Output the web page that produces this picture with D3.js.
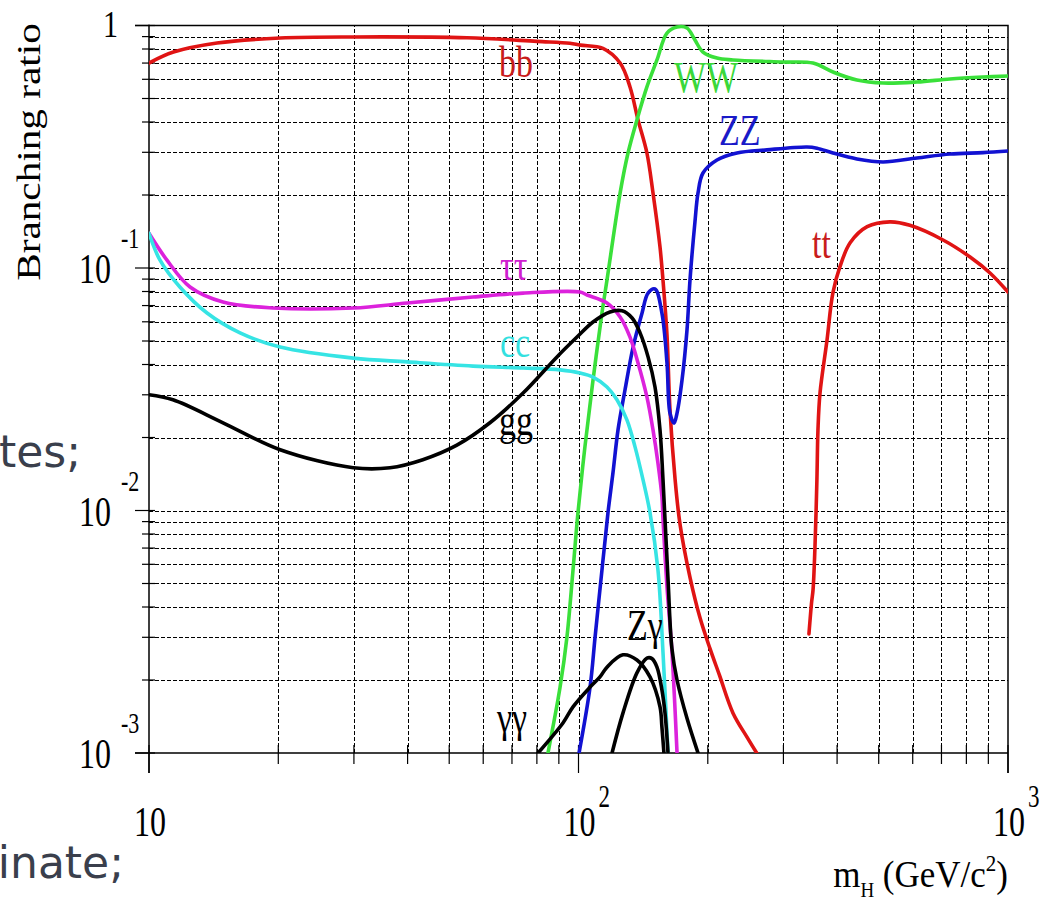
<!DOCTYPE html>
<html><head><meta charset="utf-8">
<script src="https://cdn.jsdelivr.net/npm/d3@7/dist/d3.min.js"></script>
<style>body{margin:0;background:#fff} svg{display:block}</style>
</head><body>
<svg id="c" width="1044" height="902"></svg>
<script>
// ---- data: [Higgs mass (GeV), branching ratio] ----
const bb = [[10,0.70],[11.4,0.777],[14.4,0.847],[20.2,0.888],[30,0.897],[55,0.89],[80,0.86],[95.5,0.845],[101,0.83],[114,0.805],[125,0.70],[131.8,0.558],[137.6,0.408],[144.3,0.298],[149.1,0.204],[154.8,0.122],[157.3,0.089],[160.7,0.053],[163.3,0.026],[167.8,0.0135],[172.3,0.0088],[181.8,0.0053],[191.9,0.0036],[202.3,0.0027],[212.8,0.0021],[229,0.00146],[247,0.00116],[260,0.001]];
const tt = [[344,0.0031],[349,0.0042],[351.6,0.0047],[355.3,0.0071],[359,0.0134],[361,0.0214],[365,0.0305],[379,0.0505],[391,0.0788],[406,0.101],[429,0.127],[470,0.148],[531,0.155],[591,0.150],[706,0.1305],[816,0.111],[908,0.0954],[1000,0.0796]];
const WW = [[84.9,0.001],[90.6,0.00187],[94,0.00301],[97.1,0.00568],[99.7,0.00977],[103.5,0.0183],[108.1,0.0345],[113.4,0.0652],[116.5,0.0892],[125,0.204],[130.4,0.298],[136.8,0.408],[144.3,0.558],[152.3,0.721],[160.7,0.931],[169.6,0.986],[178.9,0.977],[186.7,0.871],[194.9,0.777],[210.1,0.734],[228.9,0.721],[299.4,0.707],[351.6,0.70],[391.3,0.643],[444.9,0.596],[511.7,0.579],[613.9,0.585],[732.8,0.602],[874.7,0.613],[1000,0.619]];
const ZZ = [[100.3,0.001],[106.4,0.00187],[109.3,0.00301],[113.4,0.00568],[117.1,0.00977],[120.3,0.0143],[123.6,0.0215],[128.3,0.0314],[134,0.0472],[140.6,0.0652],[145.2,0.0788],[150.7,0.0819],[156.4,0.0652],[160.7,0.0406],[163.3,0.0252],[166.9,0.0229],[169.6,0.0252],[174.2,0.0345],[178.9,0.0555],[181.8,0.0892],[186.7,0.155],[189.8,0.204],[194.9,0.2465],[210.1,0.279],[233.9,0.298],[274.7,0.307],[340.4,0.3155],[359.2,0.312],[391.3,0.298],[444.9,0.2815],[511.7,0.2736],[613.9,0.2842],[732.8,0.2952],[874.7,0.299],[1000,0.3037]];
const tautau = [[10,0.139],[11,0.108],[12.46,0.0835],[14.87,0.0724],[19.44,0.0684],[29.9,0.0684],[39.9,0.0717],[56.8,0.0759],[74.3,0.0788],[100.8,0.0796],[104.7,0.0774],[116.5,0.0717],[125,0.0628],[131.8,0.0519],[137.6,0.0406],[144.3,0.0294],[149.1,0.0215],[153.1,0.0157],[156.4,0.0114],[157.3,0.0092],[160.7,0.00484],[165.1,0.00259],[169.6,0.001]];
const cc = [[10,0.139],[10.6,0.108],[11.8,0.0835],[13.65,0.0652],[16.29,0.054],[20.2,0.0472],[29.9,0.0425],[39.9,0.041],[56.8,0.0394],[74.3,0.0387],[90.6,0.038],[100.8,0.0369],[108.1,0.0355],[116.5,0.0323],[122.9,0.0286],[129.7,0.0236],[135.4,0.0183],[141.3,0.0134],[146.7,0.0098],[153.1,0.0057],[157.3,0.0026],[161.6,0.001]];
const gg = [[10,0.030],[11.37,0.0286],[14.87,0.023],[20.2,0.0178],[29.9,0.0150],[36.4,0.0150],[43.4,0.0162],[52.1,0.0186],[62.2,0.023],[74.3,0.0305],[89.1,0.043],[99.2,0.0519],[108.1,0.0599],[118.4,0.0659],[126.3,0.0666],[133.3,0.0622],[139.1,0.054],[145.2,0.043],[150.7,0.0323],[154.8,0.0215],[157.3,0.0134],[161.6,0.0052],[165,0.0027],[169.6,0.002],[178.9,0.00139],[189.8,0.001]];
const gammagamma = [[80.5,0.001],[92,0.00133],[97.1,0.00155],[106.4,0.00187],[112.2,0.00206],[116.5,0.00226],[126.9,0.00254],[136.8,0.00242],[146.7,0.00206],[154.8,0.00155],[156.4,0.00128],[158.1,0.001]];
const Zgamma = [[119.7,0.001],[126.9,0.00146],[136.8,0.00214],[144.3,0.00246],[148.3,0.00245],[152.3,0.00226],[156.4,0.00182],[159,0.00146],[161.6,0.001]];

const seriesNames = ["bb","tt","WW","ZZ","ττ","cc","gg","γγ","Zγ"];
const seriesData  = [bb, tt, WW, ZZ, tautau, cc, gg, gammagamma, Zgamma];
const seriesColors = ["#e01414","#e01414","#3ae03a","#1212d2","#dc22dc","#36e4e4","#000","#000","#000"];
const labelColors = ["#c81c1c","#c81c1c","#3ad83a","#1a1ac8","#d020d0","#33e0e0","#000","#000","#000"];

const xDomain = [10, 1000];
const yDomain = [0.001, 1];
const yLabelValues = [1, 0.1, 0.01, 0.001];
const yLabelExps = ["", "-1", "-2", "-3"];
const xLabelValues = [10, 100, 1000];
const xLabelExps = ["", "2", "3"];

// ---- drawing ----
const svg = d3.select("#c");
const L = 149, R = 1008, T = 25.5, B = 753;
const x = d3.scaleLog().domain(xDomain).range([L, R]);
const y = d3.scaleLog().domain(yDomain).range([B, T]);
const serif = "'Liberation Serif','Times New Roman',serif";

// label placement in pixels (left x, baseline y), same order as seriesNames
const labelPos = [[499,77],[812,258],[674,92],[719,145],[500,280],[500,357],[499,435],[497,732],[627,640]];

function stext(g, px, py, str, size, sy, anchor, color){
  return g.append("text").attr("transform", `translate(${px},${py}) scale(1,${sy})`)
    .attr("font-family", serif).attr("font-size", size).attr("text-anchor", anchor||"start")
    .attr("fill", color||"#000").text(str);
}

// slide text fragments
svg.append("text").attr("x", 81).attr("y", 467).attr("text-anchor","end")
  .attr("font-family","'DejaVu Sans',Verdana,sans-serif").attr("font-size",44).attr("fill","#3a3f4c").text("tes;");
svg.append("text").attr("x", 124).attr("y", 878).attr("text-anchor","end")
  .attr("font-family","'DejaVu Sans',Verdana,sans-serif").attr("font-size",44).attr("fill","#3a3f4c").text("inate;");

// grid
const xt = x.ticks().filter(v => v > 10 && v < 1000);
const yt = y.ticks().filter(v => v > 0.001 && v < 1);
svg.append("g").attr("transform", `translate(0,${B})`)
  .call(d3.axisBottom(x).tickValues(xt).tickSize(-(B - T)).tickFormat(""))
  .call(g => g.select(".domain").remove())
  .selectAll("line").attr("stroke","#000").attr("stroke-width",1).attr("stroke-dasharray","4,2")
  .attr("shape-rendering","crispEdges");
svg.append("g").attr("transform", `translate(${L},0)`)
  .call(d3.axisLeft(y).tickValues(yt).tickSize(-(R - L)).tickFormat(""))
  .call(g => g.select(".domain").remove())
  .selectAll("line").attr("stroke","#000").attr("stroke-width",1).attr("stroke-dasharray","4,2")
  .attr("shape-rendering","crispEdges");

// tick marks
const majY = [1, 0.1, 0.01, 0.001];
svg.append("g").selectAll("line").data(y.ticks()).join("line")
  .attr("x1", d => majY.includes(+d.toPrecision(3)) ? 135 : 142).attr("x2", 155)
  .attr("y1", d => y(d)).attr("y2", d => y(d)).attr("stroke","#000").attr("stroke-width",1.2);
const majX = [10, 100, 1000];
svg.append("g").selectAll("line").data(x.ticks()).join("line")
  .attr("x1", d => x(d)).attr("x2", d => x(d))
  .attr("y1", 745).attr("y2", d => majX.includes(Math.round(d)) ? 773 : 764)
  .attr("stroke","#000").attr("stroke-width",1.2);

// frame
svg.append("path").attr("d", `M135,${T}H${R}V773M${L},${T-1}V773M135,${B}H${R}`)
  .attr("fill","none").attr("stroke","#000").attr("stroke-width",1.5);

// curves
svg.append("clipPath").attr("id","clip").append("rect")
  .attr("x", L).attr("y", T - 6).attr("width", R - L).attr("height", B - T + 6);
const line = d3.line().x(d => x(d[0])).y(d => y(d[1])).curve(d3.curveCatmullRom.alpha(0.5));
svg.append("g").attr("clip-path","url(#clip)").selectAll("path").data(seriesData).join("path")
  .attr("d", line).attr("fill","none").attr("stroke", (d,i) => seriesColors[i])
  .attr("stroke-width", 3.6).attr("stroke-linejoin","round").attr("stroke-linecap","round");

// curve labels
seriesNames.forEach((n,i) => {
  stext(svg, labelPos[i][0], labelPos[i][1], n, 34, 1.3, "start", labelColors[i]);
});

// y tick labels
yLabelValues.forEach((v,i) => {
  if (yLabelExps[i] === "") {
    stext(svg, 118, y(v) + 11.5, "1", 30, 1.25, "end");
  } else {
    stext(svg, 111, y(v) + 15, "10", 32, 1.35, "end");
    stext(svg, 121, y(v) - 20, yLabelExps[i], 22, 1.3, "start");
  }
});
// x tick labels
xLabelValues.forEach((v,i) => {
  stext(svg, x(v) + 1, 836, "10", 32, 1.3, "middle");
  if (xLabelExps[i]) stext(svg, x(v) + 20, 807, xLabelExps[i], 23, 1.35, "start");
});

// axis titles
svg.append("text").attr("transform","translate(40,152) rotate(-90) scale(1.25,1)")
  .attr("font-family", serif).attr("font-size", 33).attr("text-anchor","middle").text("Branching ratio");
const xtitle = svg.append("text").attr("transform","translate(1008,887) scale(1,1.1)")
  .attr("font-family", serif).attr("font-size", 35).attr("text-anchor","end");
xtitle.append("tspan").text("m");
xtitle.append("tspan").attr("font-size",19).attr("dy",9).text("H");
xtitle.append("tspan").attr("dy",-9).text(" (GeV/c");
xtitle.append("tspan").attr("font-size",21).attr("dy",-15).text("2");
xtitle.append("tspan").attr("dy",15).text(")");
</script>
</body></html>
